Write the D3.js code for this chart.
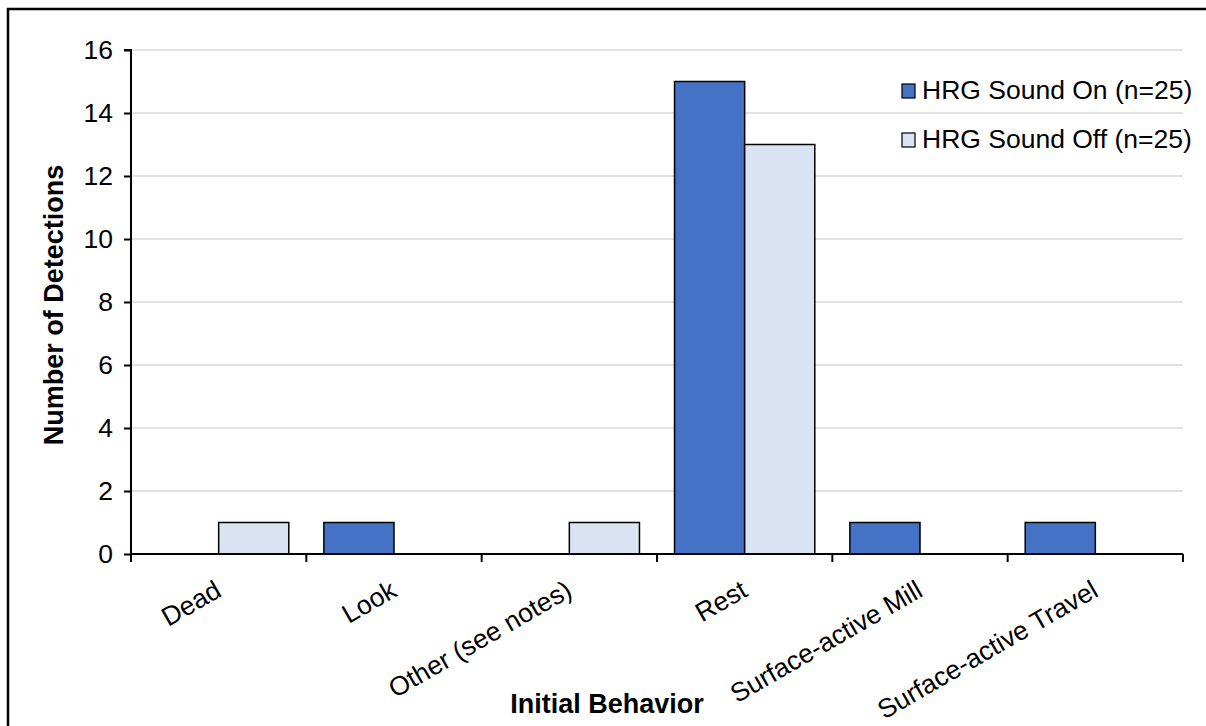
<!DOCTYPE html>
<html>
<head>
<meta charset="utf-8">
<script src="https://cdn.jsdelivr.net/npm/d3@7"></script>
<style>
  html, body { margin: 0; padding: 0; background: #fff; }
  svg { display: block; font-family: "Liberation Sans", Arial, sans-serif; }
</style>
</head>
<body>
<svg id="chart" width="1206" height="726"></svg>
<script>
const categories = ["Dead", "Look", "Other (see notes)", "Rest", "Surface-active Mill", "Surface-active Travel"];
const seriesNames = ["HRG Sound On (n=25)", "HRG Sound Off (n=25)"];
const soundOn  = [0, 1, 0, 15, 1, 1];
const soundOff = [1, 0, 1, 13, 0, 0];
const yTicks = [0, 2, 4, 6, 8, 10, 12, 14, 16];
const colors = ["#4472c4", "#dae3f3"];

const svg = d3.select("#chart");
const m = { left: 131, right: 1183, top: 50, bottom: 554 };
const FS = 26.5;

// outer frame
svg.append("rect").attr("x", 8).attr("y", 9).attr("width", 1206).attr("height", 726)
  .attr("fill", "none").attr("stroke", "#000").attr("stroke-width", 2.5);

const x0 = d3.scaleBand().domain(categories).range([m.left, m.right]).padding(0);
const x1 = d3.scaleBand().domain(seriesNames)
  .range([x0.bandwidth() * 0.1, x0.bandwidth() * 0.9]).padding(0);
const y = d3.scaleLinear().domain([0, 16]).range([m.bottom, m.top]);

// gridlines
svg.append("g").selectAll("line").data(yTicks.filter(d => d > 0)).join("line")
  .attr("x1", m.left).attr("x2", m.right)
  .attr("y1", d => y(d)).attr("y2", d => y(d))
  .attr("stroke", "#d9d9d9").attr("stroke-width", 1.5);

// bars
const data = categories.map((c, i) => ({ c, vals: [soundOn[i], soundOff[i]] }));
const groups = svg.append("g").selectAll("g").data(data).join("g")
  .attr("transform", d => `translate(${x0(d.c)},0)`);
groups.selectAll("rect").data(d => d.vals.map((v, j) => ({ v, j })).filter(o => o.v > 0)).join("rect")
  .attr("x", d => x1(seriesNames[d.j]))
  .attr("width", x1.bandwidth())
  .attr("y", d => y(d.v))
  .attr("height", d => y(0) - y(d.v))
  .attr("fill", d => colors[d.j])
  .attr("stroke", "#000").attr("stroke-width", 1.5);

// y axis
const yAxis = d3.axisLeft(y).tickValues(yTicks).tickSize(7).tickPadding(11);
const gy = svg.append("g").attr("transform", `translate(${m.left},0)`).call(yAxis);
gy.select(".domain").attr("stroke", "#000").attr("stroke-width", 2).attr("d", `M-7,${m.top}H0V${m.bottom}`);
gy.selectAll(".tick line").attr("stroke", "#000").attr("stroke-width", 2);
gy.selectAll(".tick text").attr("font-size", FS).attr("fill", "#000")
  .attr("font-family", "Liberation Sans, Arial, sans-serif");

// x axis line and ticks at category boundaries
const bounds = categories.map(c => x0(c)).concat([m.right]);
svg.append("line").attr("x1", m.left).attr("x2", m.right).attr("y1", m.bottom).attr("y2", m.bottom)
  .attr("stroke", "#000").attr("stroke-width", 2);
svg.append("g").selectAll("line").data(bounds).join("line")
  .attr("x1", d => d).attr("x2", d => d).attr("y1", m.bottom).attr("y2", m.bottom + 8)
  .attr("stroke", "#000").attr("stroke-width", 2);

// category labels
svg.append("g").selectAll("text").data(categories).join("text")
  .attr("transform", d => `translate(${x0(d) + x0.bandwidth() / 2 - 5},${m.bottom + 25}) rotate(-30)`)
  .attr("text-anchor", "end")
  .attr("dy", "0.71em")
  .attr("font-size", FS)
  .attr("fill", "#000")
  .text(d => d);

// axis titles
svg.append("text").attr("x", 607).attr("y", 713).attr("text-anchor", "middle")
  .attr("font-size", 27).attr("font-weight", "bold").text("Initial Behavior");
svg.append("text").attr("transform", `translate(63,305) rotate(-90)`).attr("text-anchor", "middle")
  .attr("font-size", 27).attr("font-weight", "bold").text("Number of Detections");

// legend
const leg = svg.append("g").selectAll("g").data(seriesNames).join("g")
  .attr("transform", (d, i) => `translate(902,${84 + i * 49})`);
leg.append("rect").attr("width", 13).attr("height", 14)
  .attr("fill", (d, i) => colors[i]).attr("stroke", "#000").attr("stroke-width", 1.2);
leg.append("text").attr("x", 20).attr("y", 15).attr("font-size", FS).attr("fill", "#000").text(d => d);
</script>
</body>
</html>
